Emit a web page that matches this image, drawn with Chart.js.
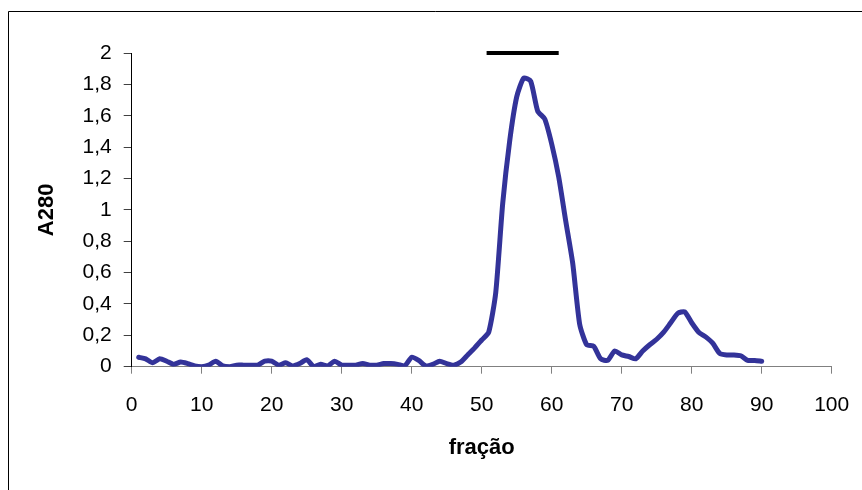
<!DOCTYPE html>
<html>
<head>
<meta charset="utf-8">
<script src="https://cdn.jsdelivr.net/npm/chart.js@4"></script>
<style>
    body { margin: 0; background: #fff; }
    #wrap { position: relative; width: 862px; height: 490px; }
</style>
</head>
<body>
<div id="wrap"><canvas id="chart" width="862" height="490"></canvas></div>
<script>
// fraction number and absorbance
const fractions = [];
for (let i = 1; i <= 90; i++) fractions.push(i);
const a280 = [
    0.06, 0.05, 0.025, 0.05, 0.035, 0.015, 0.03, 0.02, 0.005, 0,
    0.01, 0.035, 0.005, 0, 0.01, 0.01, 0.01, 0.01, 0.035, 0.035,
    0.01, 0.025, 0.005, 0.02, 0.045, 0, 0.015, 0.005, 0.035, 0.01,
    0.01, 0.01, 0.02, 0.01, 0.01, 0.02, 0.02, 0.015, 0.005, 0.06,
    0.04, 0.005, 0.015, 0.035, 0.02, 0.01, 0.03, 0.075, 0.12, 0.17,
    0.22, 0.47, 1.04, 1.44, 1.72, 1.84, 1.82, 1.63, 1.58, 1.42,
    1.21, 0.93, 0.66, 0.27, 0.14, 0.13, 0.05, 0.04, 0.1, 0.075,
    0.065, 0.05, 0.1, 0.14, 0.175, 0.22, 0.28, 0.34, 0.35, 0.28,
    0.22, 0.19, 0.15, 0.085, 0.075, 0.075, 0.07, 0.04, 0.04, 0.035
];
// pooled fractions marked with the black bar
const poolStart = 50.7;
const poolEnd = 61;
const poolLevel = 2;

const xTicks = [0, 10, 20, 30, 40, 50, 60, 70, 80, 90, 100];
const yTicks = [0, 0.2, 0.4, 0.6, 0.8, 1, 1.2, 1.4, 1.6, 1.8, 2];

const FONT = "'Liberation Sans', Arial, sans-serif";

// thin frame on top and left like the exported sheet
const framePlugin = {
    id: 'frame',
    beforeDraw(chart) {
        const ctx = chart.ctx;
        ctx.save();
        ctx.strokeStyle = '#000';
        ctx.lineWidth = 1;
        ctx.beginPath();
        ctx.moveTo(8.5, 490);
        ctx.lineTo(8.5, 11.5);
        ctx.lineTo(862, 11.5);
        ctx.stroke();
        ctx.restore();
    }
};

const ctx = document.getElementById('chart').getContext('2d');
new Chart(ctx, {
    type: 'line',
    data: {
        datasets: [{
            data: fractions.map((f, i) => ({ x: f, y: a280[i] })),
            borderColor: '#333399',
            borderWidth: 5,
            borderJoinStyle: 'round',
            borderCapStyle: 'round',
            pointRadius: 0,
            tension: 0.2
        }, {
            data: [{ x: poolStart, y: poolLevel }, { x: poolEnd, y: poolLevel }],
            borderColor: '#000',
            borderWidth: 4,
            pointRadius: 0,
            clip: false
        }]
    },
    options: {
        responsive: false,
        animation: false,
        devicePixelRatio: 1,
        layout: { padding: { left: 0, top: 53, right: 30.3, bottom: 0 } },
        plugins: { legend: { display: false }, tooltip: { enabled: false } },
        scales: {
            x: {
                type: 'linear',
                min: 0,
                max: 100,
                afterBuildTicks: s => { s.ticks = xTicks.map(v => ({ value: v })); },
                afterFit: s => {
                    s.height = 123.3;
                    s.paddingLeft = 0;
                    s.paddingRight = 0;
                },
                border: { color: '#808080', width: 1 },
                grid: { drawOnChartArea: false, drawTicks: true, tickLength: 7, color: '#808080' },
                ticks: { color: '#000', padding: 19, maxRotation: 0, font: { family: FONT, size: 21 } },
                title: {
                    display: true, text: 'fração', color: '#000',
                    font: { family: FONT, size: 22, weight: 'bold' },
                    padding: { top: 0, bottom: 29 }
                }
            },
            y: {
                min: 0,
                max: 2,
                afterBuildTicks: s => { s.ticks = yTicks.map(v => ({ value: v })); },
                afterFit: s => { s.width = 131.7; },
                border: { color: '#000', width: 1 },
                grid: { drawOnChartArea: false, drawTicks: true, tickLength: 8, color: '#404040' },
                ticks: {
                    color: '#000', padding: 12, font: { family: FONT, size: 21 },
                    callback: v => String(Math.round(v * 10) / 10).replace('.', ',')
                },
                title: {
                    display: true, text: 'A280', color: '#000',
                    font: { family: FONT, size: 22, weight: 'bold' },
                    padding: { top: 34, bottom: 0 }
                }
            }
        }
    },
    plugins: [framePlugin]
});
</script>
</body>
</html>
